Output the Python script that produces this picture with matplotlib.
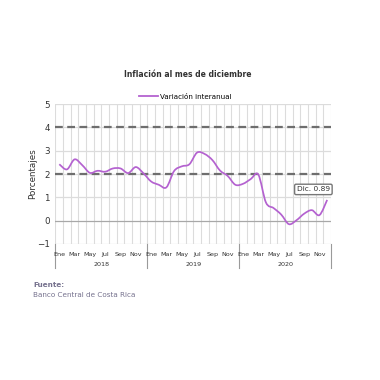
import numpy as np
import matplotlib
matplotlib.use("Agg")
from matplotlib import pyplot as plt
from matplotlib.path import Path
from matplotlib.patches import PathPatch
from matplotlib.lines import Line2D

# data (monthly year-on-year inflation, %)
meses = ['Ene', 'Mar', 'May', 'Jul', 'Sep', 'Nov']
anios = ['2018', '2019', '2020']
inflacion_2018 = [2.42, 2.20, 2.63, 2.38, 2.05, 2.14, 2.10, 2.24, 2.24, 2.04, 2.30, 2.03]
inflacion_2019 = [1.68, 1.54, 1.43, 2.13, 2.33, 2.42, 2.92, 2.86, 2.60, 2.15, 1.92, 1.54]
inflacion_2020 = [1.58, 1.78, 1.98, 0.78, 0.54, 0.26, -0.15, 0.02, 0.30, 0.45, 0.24, 0.89]
meta_sup = 4
meta_inf = 2
etiqueta_ultimo = 'Dic. 0.89'

vals = np.array(inflacion_2018 + inflacion_2019 + inflacion_2020)
xs = np.arange(len(vals))

purple = '#b462d0'
grid_c = '#dcdcdc'

fig = plt.figure(figsize=(3.8, 3.8), dpi=100)
fig.patch.set_facecolor('white')
ax = fig.add_axes([0.146, 0.358, 0.725, 0.368])

ax.set_xlim(-0.5, 35.5)
ax.set_ylim(-1, 5)

# gridlines
for gx in np.arange(-0.5, 36, 1):
    ax.axvline(gx, color=grid_c, lw=0.8, zorder=0)
for gy in range(-1, 6):
    ax.axhline(gy, color='#a8a8a8' if gy == 0 else grid_c, lw=0.9, zorder=0)
ax.axhline(meta_sup, color='#6e6e6e', lw=1.6, ls=(0, (3.5, 2)), zorder=1)
ax.axhline(meta_inf, color='#6e6e6e', lw=1.6, ls=(0, (3.5, 2)), zorder=1)

# smoothed line (Catmull-Rom as cubic bezier, like spreadsheet smoothing)
pts = np.column_stack([xs, vals])
verts = [tuple(pts[0])]
codes = [Path.MOVETO]
n = len(pts)
for i in range(n - 1):
    p0 = pts[max(i - 1, 0)]
    p1 = pts[i]
    p2 = pts[i + 1]
    p3 = pts[min(i + 2, n - 1)]
    c1 = p1 + (p2 - p0) / 6.0
    c2 = p2 - (p3 - p1) / 6.0
    verts += [tuple(c1), tuple(c2), tuple(p2)]
    codes += [Path.CURVE4] * 3
ax.add_patch(PathPatch(Path(verts, codes), facecolor='none', edgecolor=purple, lw=1.25, zorder=3))

for s in ax.spines.values():
    s.set_visible(False)

ax.set_xticks([])
ax.set_yticks(range(-1, 6))
ax.tick_params(axis='y', length=0, labelsize=6.3, labelcolor='#333333', pad=4)
ax.set_ylabel('Porcentajes', fontsize=6.3, color='#333333', labelpad=0)

# month / year labels
trans = ax.get_xaxis_transform()
for k in range(36):
    if k % 2 == 0:
        ax.text(k, -0.075, meses[(k % 12) // 2], transform=trans, ha='center', va='center',
                fontsize=4.6, color='#333333')
for j, a in enumerate(anios):
    ax.text(12 * j + 5.5, -0.145, a, transform=trans, ha='center', va='center',
            fontsize=4.6, color='#333333')
for bx in [-0.5, 11.5, 23.5, 35.5]:
    ax.add_line(Line2D([bx, bx], [0, -0.175], transform=trans, color='#9a9a9a', lw=0.8,
                       clip_on=False))

# last value label
ax.text(33.2, 1.34, etiqueta_ultimo, ha='center', va='center', fontsize=5.3, color='#333333',
        bbox=dict(boxstyle='round,pad=0.3,rounding_size=0.2', fc='white', ec='#777777', lw=1.0),
        zorder=5)

fig.text(0.493, 0.803, 'Inflación al mes de diciembre', ha='center', va='center',
         fontsize=5.5, fontweight='bold', color='#333333')
handle = Line2D([], [], color=purple, lw=1.3)
fig.legend([handle], ['Variación interanual'], loc='center', bbox_to_anchor=(0.488, 0.745),
           frameon=False, fontsize=5.1, handlelength=2.6, handletextpad=0.3)

fig.text(0.087, 0.25, 'Fuente:', ha='left', va='center', fontsize=5.2, fontweight='bold',
         color='#76728e')
fig.text(0.087, 0.224, 'Banco Central de Costa Rica', ha='left', va='center', fontsize=5.2,
         color='#76728e')

fig.savefig('out.png', dpi=100, facecolor='white')
